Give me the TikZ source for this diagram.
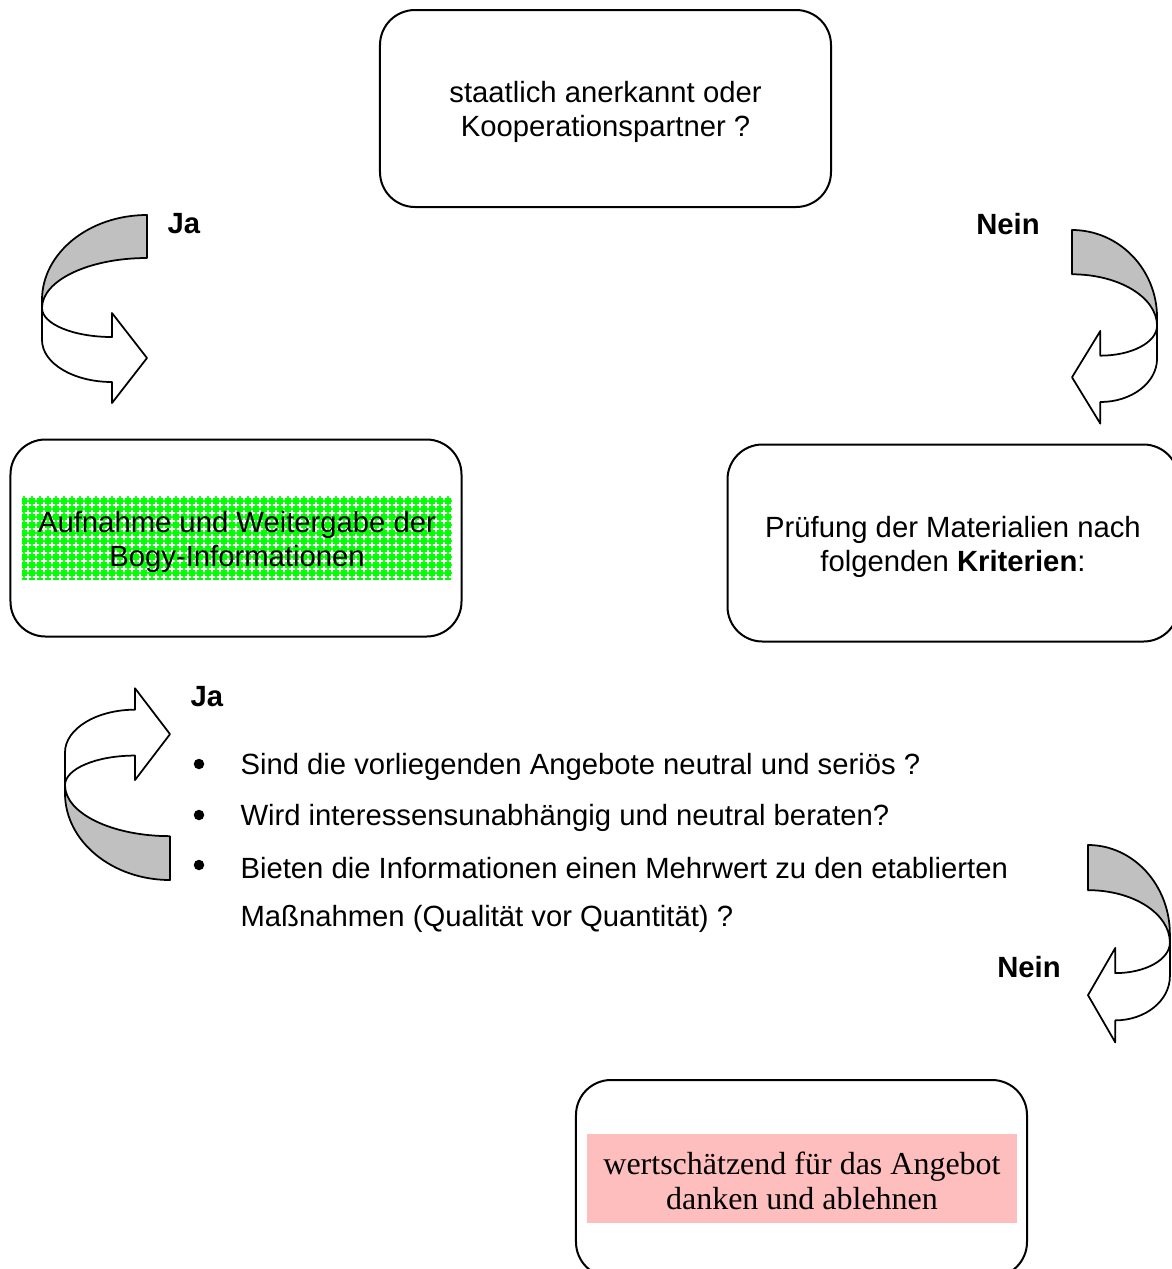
\documentclass[tikz,border=0pt]{standalone}
\usepackage{fontspec}
\setmainfont{Liberation Sans}
\newfontfamily\timesfont{Liberation Serif}
\usepackage{tikz}
\usetikzlibrary{patterns}
\definecolor{bandgray}{RGB}{192,192,192}
\definecolor{softpink}{RGB}{255,190,190}
\newcommand{\textsize}{\fontsize{11.7pt}{13.6pt}\selectfont}
\pgfdeclarepatternformonly{plusses}{\pgfqpoint{-0.1pt}{-0.1pt}}{\pgfqpoint{3.3pt}{3.3pt}}{\pgfqpoint{3.2pt}{3.2pt}}{
  \pgfsetlinewidth{0.5pt}
  \pgfpathmoveto{\pgfqpoint{0.5pt}{1.6pt}}\pgfpathlineto{\pgfqpoint{2.7pt}{1.6pt}}
  \pgfpathmoveto{\pgfqpoint{1.6pt}{0.5pt}}\pgfpathlineto{\pgfqpoint{1.6pt}{2.7pt}}
  \pgfusepath{stroke}}
\tikzset{
  roundbox/.style={draw,line width=0.8pt,rounded corners=14pt,minimum width=180.4pt,minimum height=78.8pt},
  boxtext/.style={align=center,yshift=-1.5pt},
  answer/.style={font=\textsize\bfseries},
  dot/.style={circle,fill,inner sep=0pt,minimum size=4.2pt},
  band/.style={draw,line width=0.7pt,line join=round}
}
% curved arrow: #1,#2 = straight end of the band, #3,#4 = scales
\newcommand{\curvedband}[4]{
  \begin{scope}[shift={(#1,#2)},xscale=#3,yscale=#4]
    \filldraw[band,fill=white] (105,85) -- (105,125) arc[start angle=0,end angle=90,x radius=70,y radius=42]
      -- (35,188) -- (0,143) -- (35,98) -- (35,122) arc[start angle=90,end angle=0,x radius=70,y radius=29] -- cycle;
    \filldraw[band,fill=bandgray] (0,0) arc[start angle=-90,end angle=0,x radius=105,y radius=85]
      -- (105,93) arc[start angle=0,end angle=-90,x radius=105,y radius=50] -- cycle;
  \end{scope}}
\begin{document}
\begin{tikzpicture}[line cap=round,line join=round,x=0.4pt,y=-0.4pt,font=\textsize]
      \useasboundingbox (0,0) rectangle (1172,1269);
      \clip (0,0) rectangle (1172,1269);
      \node[roundbox] (anerkannt) at (605.5,108.5) {};
      \node[boxtext] (anerkannt text) at (anerkannt.center) {staatlich anerkannt oder\\Kooperationspartner ?};
      \node[preaction={fill=green},pattern=plusses,pattern color=white,minimum width=172pt,minimum height=33.6pt] (gruen) at (237,538) {};
      \node[boxtext] (gruen text) at (gruen.center) {Aufnahme und Weitergabe der\\Bogy-Informationen};
      \node[roundbox] (aufnahme) at (236,538) {};
      \node[roundbox] (pruefung) at (953,543) {};
      \node[boxtext] (pruefung text) at (pruefung.center) {Pr\"ufung der Materialien nach\\folgenden \textbf{Kriterien}:};
      \node[fill=softpink,minimum width=172pt,minimum height=35.6pt] (rosa) at (802,1178.5) {};
      \node[boxtext,yshift=0.6pt,font=\timesfont\fontsize{12.8pt}{14pt}\selectfont] (rosa text) at (rosa.center) {wertsch\"atzend f\"ur das Angebot\\danken und ablehnen};
      \node[roundbox] (ablehnen) at (801.5,1178.5) {};
      \node[answer] (ja1) at (184,224) {Ja};
      \node[answer] (nein1) at (1008,224) {Nein};
      \node[answer] (ja2) at (207,697) {Ja};
      \node[answer] (nein2) at (1029,967) {Nein};
      \curvedband{147}{215}{-1}{1}
      \curvedband{1072}{230}{0.81}{1.03}
      \curvedband{170}{880}{-1}{-1.02}
      \curvedband{1088}{845}{0.78}{1.05}
      \foreach \y/\txt [count=\i] in {764/Sind die vorliegenden Angebote neutral und seri\"os ?,
          815/Wird interessensunabh\"angig und neutral beraten?,
          865/Bieten die Informationen einen Mehrwert zu den etablierten}
      {
      \node[dot] (bullet\i) at (199,\y) {};
      \node[anchor=west,inner sep=0pt,yshift=-1.2pt] (krit\i) at (240,\y) {\txt};
      }
      \node[anchor=west,inner sep=0pt,yshift=-1.2pt] (krit4) at (240,916) {Ma\ss nahmen (Qualit\"at vor Quantit\"at) ?};
\end{tikzpicture}
\end{document}
